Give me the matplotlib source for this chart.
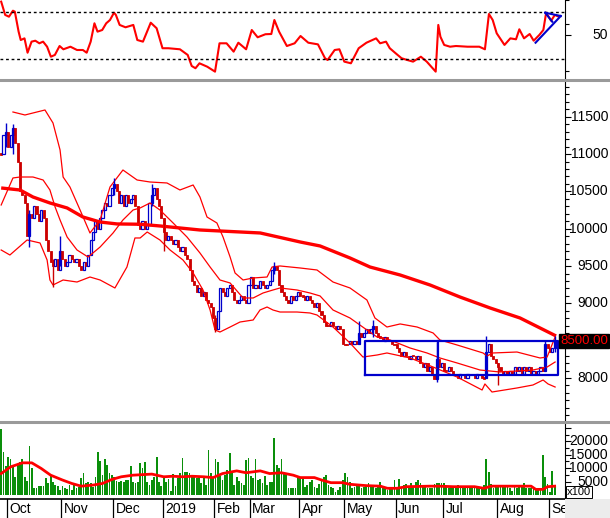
import matplotlib
matplotlib.use('Agg')
import matplotlib.pyplot as plt
from matplotlib.lines import Line2D
from matplotlib.patches import Rectangle
from matplotlib.transforms import blended_transform_factory
from matplotlib.ticker import MultipleLocator

plt.rcParams['font.family'] = ['Liberation Sans', 'DejaVu Sans']

# daily closes, one per trading day (late Sep 2018 .. early Sep 2019)
close = [
    11000, 11250, 11300, 11100, 11250, 11350, 11150, 10900, 10500, 10450,
    10350, 9900, 10200, 10150, 10300, 10200, 10100, 10250, 10150, 9850,
    9700, 9550, 9500, 9600, 9450, 9700, 9600, 9500, 9550, 9650,
    9600, 9550, 9600, 9500, 9450, 9550, 9500, 9650, 9850, 9950,
    10100, 10000, 10150, 10250, 10350, 10300, 10450, 10550, 10600, 10500,
    10350, 10450, 10300, 10450, 10350, 10400, 10450, 10300, 10050, 10000,
    10100, 10000, 10050, 10350, 10450, 10550, 10400, 10300, 10150, 9950,
    9850, 9900, 9850, 9800, 9850, 9750, 9700, 9750, 9650, 9600,
    9450, 9300, 9250, 9150, 9200, 9100, 9150, 9050, 9000, 8950,
    8800, 8650, 8900, 9200, 9150, 9100, 9200, 9250, 9150, 9050,
    9000, 9050, 9100, 9050, 9000, 9250, 9350, 9200, 9250, 9200,
    9300, 9250, 9200, 9250, 9300, 9450, 9500, 9450, 9250, 9150,
    9100, 9050, 9000, 9100, 9050, 9100, 9150, 9100, 9100, 9050,
    9100, 9050, 9000, 8950, 9000, 8900, 8850, 8750, 8700, 8700,
    8750, 8700, 8650, 8700, 8650, 8450, 8450, 8450, 8500, 8450,
    8500, 8450, 8600, 8550, 8600, 8650, 8600, 8650, 8700, 8600,
    8550, 8550, 8500, 8550, 8500, 8500, 8450, 8450, 8400, 8350,
    8300, 8350, 8300, 8250, 8300, 8300, 8250, 8300, 8200, 8150,
    8200, 8100, 8150, 8050, 7980, 8250, 8150, 8200, 8100, 8100,
    8150, 8100, 8050, 8050, 8000, 8050, 8050, 8000, 8050, 8050,
    8050, 8000, 8050, 8050, 8000, 8000, 8350, 8450, 8300, 8250,
    8200, 8150, 8100, 8050, 8100, 8050, 8100, 8050, 8150, 8100,
    8150, 8050, 8150, 8100, 8150, 8050, 8100, 8050, 8100, 8150,
    8100, 8450, 8400, 8350, 8400, 8500,
]

# visible shadows (day: (low, high))
wicks = {
    2: (11100, 11420), 5: (11000, 11400), 12: (9750, 10250), 22: (9220, 9600),
    25: (9500, 9900), 48: (10450, 10680), 64: (10300, 10600), 69: (9700, 10150),
    91: (8620, 8850), 116: (9400, 9560), 152: (8450, 8760), 158: (8550, 8780),
    185: (7950, 8480), 206: (8000, 8560), 211: (7900, 8200), 231: (8100, 8500),
    235: (8350, 8560),
}

# volume, x100 shares
volume = [
    24800, 15900, 10800, 14300, 13600, 10500, 6800, 11200, 12400, 13300,
    6800, 5200, 18200, 9900, 2500, 2700, 3300, 3300, 3300, 6200,
    4300, 7400, 5000, 3700, 3300, 1900, 3300, 2700, 2100, 3700,
    1900, 3700, 2500, 3100, 6200, 8300, 4300, 5000, 4600, 3100,
    6800, 15900, 12600, 7400, 13600, 11200, 8100, 7400, 6800, 5300,
    5000, 5300, 5000, 5600, 5600, 10800, 5000, 4600, 5000, 11800,
    9900, 12400, 5000, 3700, 5600, 6800, 14300, 5000, 3300, 6200,
    5000, 5800, 1600, 7800, 3300, 6200, 8300, 13900, 8700, 8700,
    8300, 7100, 7100, 6200, 7100, 4600, 6800, 3700, 16700, 8100,
    6800, 13400, 12400, 7100, 5600, 7400, 9500, 15500, 8700, 3700,
    6800, 5200, 4300, 3700, 13000, 13900, 7100, 6200, 13600, 5600,
    5800, 4300, 7100, 3700, 5000, 5000, 21300, 11200, 9900,
    13300, 8100, 7800, 2500, 2500, 2700, 2500, 6800, 6800, 6600,
    3100, 3700, 5000, 5600, 3100, 2500, 4100, 5200, 6800, 7300,
    3700, 3100, 2500, 1200, 1900, 3100, 5600, 8300, 6600, 5000,
    2500, 3100, 4100, 3700, 2500, 3100, 3700, 4300, 3100, 3100,
    2500, 3100, 5000, 2500, 3100, 1900, 2900, 3100, 5600, 2500,
    5800, 3100, 3700, 4100, 3100, 4600, 3100, 5000, 5600, 4300,
    3100, 3700, 2500, 2500, 2500, 4100, 4300, 4600, 4300, 4300,
    3100, 2500, 3100, 3100, 2500, 3700, 2500, 3100, 3100, 2500,
    3100, 2500, 3100, 2500, 3100, 2500, 3700, 13300, 8400, 4100,
    2500, 3700, 3100, 3100, 3100, 3700, 3100, 2500, 1600, 3100,
    2500, 3700, 3100, 4300, 2500, 2500, 2500, 3100, 2500, 1900,
    2500, 14900, 6600, 4100, 1200, 8900, 3700,
]

vol_ma_day = [0, 4, 9, 13, 17, 21, 26, 30, 34, 39, 43, 47, 51, 56, 64, 69, 73, 77, 81,
              86, 90, 94, 100, 104, 110, 114, 119, 124, 127, 133, 136, 140, 145, 148,
              155, 161, 164, 168, 172, 182, 186, 192, 201, 205, 208, 218, 225, 227,
              230, 232, 235]
vol_ma = [8000, 10500, 12000, 12000, 9900, 7400, 5600, 4300, 3300, 3700, 4300, 5800,
          6800, 7400, 7800, 6800, 7000, 6800, 7000, 6800, 6500, 8000, 9000, 8300, 9000,
          8000, 8300, 7400, 6500, 6500, 5600, 4600, 4600, 4000, 3500, 3300, 2500, 2500,
          3100, 3300, 3300, 3100, 3100, 2500, 3300, 3300, 3300, 2100, 2100, 3100, 3300]

ma200_day = [0, 8, 13.5, 20.7, 28, 34.7, 42, 49.2, 59, 67.4, 84.4, 110, 127, 135.4,
             148.1, 156.6, 169.4, 182.1, 194.8, 207.6, 220.3, 228.8, 235.6]
ma200 = [10546, 10519, 10425, 10345, 10278, 10157, 10090, 10064, 10060, 10037, 9983,
         9943, 9822, 9769, 9608, 9487, 9380, 9246, 9085, 8938, 8804, 8670, 8563]

bb_up_day = [5, 10.1, 18.6, 22, 25, 26.3, 29.2, 33.5, 37.7, 42, 46.2, 51.7, 57.7, 63.2,
             70.4, 75.9, 81.5, 84.4, 87.4, 91.6, 94.2, 97.2, 99.3, 102.7, 107, 112.9,
             115, 118.4, 126.9, 134.1, 140.9, 148.1, 155.3, 158.7, 163.8, 169.4, 176.6,
             183.4, 186.3, 193.6, 204.6, 206.3, 208.8, 219, 228.8, 231.8, 233, 235.2]
bb_up = [11564, 11524, 11591, 11417, 11055, 10693, 10559, 10251, 9943, 10117, 10559,
         10787, 10653, 10626, 10613, 10519, 10586, 10425, 10157, 10077, 9889, 9621, 9407,
         9313, 9340, 9353, 9487, 9501, 9474, 9447, 9286, 9206, 9045, 8804, 8683, 8724,
         8683, 8603, 8509, 8442, 8335, 8295, 8335, 8348, 8268, 8281, 8375, 8549]

bb_mid_day = [0, 5, 8, 13.5, 17.8, 20.7, 22.9, 25, 28, 32.2, 36.9, 42, 47.5, 51.7, 56,
              59, 63.2, 67.4, 73, 78.9, 84.4, 88.7, 92.9, 97.2, 102.7, 107, 111.2, 115.4,
              118.4, 125.6, 131.1, 135.4, 140.9, 148.1, 155.3, 159.6, 165.1, 173.6, 180.8,
              186.3, 193.6, 203.3, 211.8, 225.8, 231.8, 235.2]
bb_mid = [10318, 10680, 10693, 10693, 10653, 10519, 10291, 10117, 9889, 9715, 9621,
          9755, 9943, 10117, 10251, 10278, 10345, 10251, 10077, 9889, 9675, 9487, 9313,
          9273, 9072, 9072, 9139, 9179, 9206, 9179, 9139, 9099, 8911, 8804, 8643, 8549,
          8509, 8402, 8335, 8268, 8201, 8107, 8080, 8107, 8147, 8214]

bb_lo_day = [0, 3.7, 11, 16.5, 19.5, 20.7, 22, 26.3, 32.2, 37.7, 42, 48.3, 53.4, 56.8,
             59, 62, 67.4, 71.7, 77.2, 81.5, 85.7, 88.7, 90.8, 92.9, 97.2, 101.4, 107,
             109.9, 112.9, 115.4, 118.4, 125.6, 131.1, 134.1, 140.9, 148.1, 153.6, 159.6,
             163.8, 173.6, 183.4, 193.6, 204.2, 205.4, 208.4, 219, 225.8, 230.1, 232.2,
             235.2]
bb_lo = [9715, 9648, 9849, 9809, 9581, 9313, 9246, 9313, 9286, 9353, 9313, 9206, 9487,
         9876, 9876, 9956, 9849, 9715, 9581, 9407, 9179, 8911, 8643, 8616, 8683, 8750,
         8777, 8911, 8951, 8911, 8884, 8884, 8871, 8844, 8683, 8469, 8281, 8308, 8335,
         8268, 8147, 8013, 7839, 7920, 7812, 7866, 7906, 7973, 7920, 7879]

rsi_day = [0, 1.7, 3.3, 5, 5.8, 7.4, 8.3, 9.9, 11.2, 12.9, 14.5, 16.2, 17.8, 19.5,
           21.1, 22.8, 24.8, 26.4, 29.4, 32.2, 34.7, 36.3, 38, 39.6, 40.9, 42.9, 44.6,
           46.2, 47.9, 48.7, 50.3, 52.8, 56.1, 57.8, 60.2, 63.5, 66, 68.5, 71, 75.9,
           79.2, 80.9, 82.5, 84.2, 87.5, 90.8, 92.7, 95.7, 98.7, 100.7, 104, 106.4,
           108.9, 112.2, 114.7, 116, 118, 121.3, 124.6, 127.1, 130.4, 134.5, 137.5,
           138.6, 141.6, 143.6, 145.7, 148.5, 151.8, 155.1, 159.2, 160.9, 163.4, 165,
           167.5, 170, 172.4, 174.9, 178.2, 180.7, 183.2, 184.5, 185.6, 186.5, 188.1,
           190.6, 193.1, 198, 203, 205.4, 207.1, 208.7, 210.4, 213.7, 216.2, 218.6, 220,
           222, 224.4, 226.1, 228.5, 230.2, 231.4, 233.5, 235.1, 236.8]
rsi = [78.6, 67.3, 65.8, 70.9, 70.1, 53.1, 46.0, 47.4, 35.2, 44.6, 45.4, 43.2, 44.6,
       40.3, 31.8, 33.3, 40.9, 38.1, 40.3, 37.5, 37.5, 35.2, 44.6, 60.2, 53.1, 54.5,
       60.2, 63.0, 69.2, 67.3, 58.8, 56.8, 58.8, 46.0, 44.6, 60.7, 56.0, 39.0, 39.0,
       38.1, 33.3, 23.9, 22.0, 26.2, 23.3, 19.1, 43.2, 43.2, 36.1, 43.7, 38.1, 54.5,
       48.3, 50.9, 51.1, 63.0, 53.1, 40.9, 43.2, 49.4, 43.7, 42.3, 30.5, 29.0, 37.5,
       38.1, 27.6, 26.2, 39.0, 43.7, 47.4, 43.2, 44.6, 39.0, 34.7, 30.5, 29.0, 27.6,
       31.8, 27.6, 22.0, 19.1, 58.8, 48.8, 41.8, 40.3, 40.9, 40.3, 40.3, 38.1, 68.1,
       63.0, 51.7, 41.8, 47.4, 46.6, 55.1, 47.4, 51.1, 45.4, 50.3, 54.5, 69.2, 62.4,
       67.3, 65.8]

month_labels = ['Oct', 'Nov', 'Dec', '2019', 'Feb', 'Mar', 'Apr', 'May', 'Jun', 'Jul', 'Aug', 'Se']
month_start = [3, 26, 48, 69, 91, 106, 127, 146, 168, 188, 211, 233]

price_labels = [8000, 8500, 9000, 9500, 10000, 10500, 11000, 11500]
vol_labels = [5000, 10000, 15000, 20000]
last_price = 8500

# trading-range box drawn by the analyst (day, price)
box_days = (154.5, 185.6, 236.3)
box_prices = (8040, 8500)

W, H = 610, 518
RED = '#ff0000'
DRED = '#cc0000'
BLUE = '#0000cc'
XLIM = (-0.5, 239.4)

fig = plt.figure(figsize=(W / 100, H / 100), dpi=100)


def place(top, bottom, left=0, right=565):
    return [left / W, 1 - bottom / H, (right - left) / W, (bottom - top) / H]


ax_rsi = fig.add_axes(place(0, 78))
ax = fig.add_axes(place(82, 420))
ax_vol = fig.add_axes(place(423, 499))
ax_mon = fig.add_axes(place(499, 518))

for a in (ax_rsi, ax, ax_vol, ax_mon):
    a.set_xlim(*XLIM)
    a.set_xticks([])
    for s in ('top', 'left', 'bottom'):
        a.spines[s].set_visible(False)
    a.spines['right'].set_color('black')
    a.yaxis.tick_right()
    a.tick_params(axis='y', which='both', direction='out', labelright=False,
                  length=4.5, width=0.8, color='black')
    a.tick_params(axis='y', which='minor', length=3)
    a.patch.set_alpha(0)


def right_label(a, val, text, **kw):
    tr = blended_transform_factory(fig.transFigure, a.transData)
    kw.setdefault('fontsize', 10)
    a.text(608 / W, val, text, transform=tr, ha='right', va='center',
           clip_on=False, **kw)


# ---- RSI panel
ax_rsi.set_ylim(13.7, 80)
ax_rsi.plot(rsi_day, rsi, color=RED, lw=1.5)
for lvl in (70, 30):
    ax_rsi.axhline(lvl, color='black', lw=1, ls=(0, (2, 2)))
ax_rsi.set_yticks([50])
ax_rsi.set_yticks([20, 60, 80], minor=True)
right_label(ax_rsi, 50, '50')
ax_rsi.plot([226.9, 237.6], [43.7, 66.4], color=BLUE, lw=1.5)
ax_rsi.plot([231.0, 237.6], [69.2, 66.4], color=BLUE, lw=1.5)
ax_rsi.plot([231.0, 234.0], [69.2, 61.5], color=BLUE, lw=1.5)

# ---- price panel
ax.set_ylim(7437, 11966)
ax.plot(ma200_day, ma200, color=RED, lw=2.4, solid_capstyle='butt')
for d, v in ((bb_up_day, bb_up), (bb_mid_day, bb_mid), (bb_lo_day, bb_lo)):
    ax.plot(d, v, color=RED, lw=0.9)

for i, c in enumerate(close):
    o = close[i - 1] if i > 0 else c
    if i in wicks:
        lo, hi = wicks[i]
        ax.vlines(i, lo, hi, color=BLUE if c >= o else DRED, lw=1.0)
    lo_b, hi_b = min(o, c), max(o, c)
    if hi_b - lo_b < 20:
        lo_b, hi_b = c - 10, c + 10
    if c > o:
        ax.add_patch(Rectangle((i - 0.45, lo_b), 0.9, hi_b - lo_b, facecolor='none',
                               edgecolor=BLUE, lw=0.9))
    else:
        ax.add_patch(Rectangle((i - 0.45, lo_b), 0.9, hi_b - lo_b, facecolor=DRED,
                               edgecolor=DRED, lw=0.6))

bx0, bxm, bx1 = box_days
by0, by1 = box_prices
ax.plot([bx0, bx1, bx1, bx0, bx0], [by0, by0, by1, by1, by0], color=BLUE, lw=1.6)
ax.plot([bxm, bxm], [by0, by1], color=BLUE, lw=1.6)

ax.set_yticks(price_labels)
ax.yaxis.set_minor_locator(MultipleLocator(100))
for p in price_labels:
    if p != last_price:
        right_label(ax, p, str(p))
right_label(ax, last_price, f'{last_price:.2f}', color=RED, fontsize=9.5,
            bbox=dict(facecolor='black', edgecolor='black', pad=0.8))

# ---- volume panel
ax_vol.set_ylim(-1490, 26860)
ax_vol.bar(range(len(volume)), volume, width=0.75, color='#0a8f0a', linewidth=0)
ax_vol.plot(vol_ma_day, vol_ma, color=RED, lw=2)
ax_vol.set_yticks([0] + vol_labels + [25000])
ax_vol.yaxis.set_minor_locator(MultipleLocator(2500))
for v in vol_labels:
    right_label(ax_vol, v, str(v))
fig.text(567 / W, 1 - 492 / H, 'x100', fontsize=8, ha='left', va='center',
         bbox=dict(facecolor='white', edgecolor='black', lw=0.7, pad=1))

# ---- month axis
ax_mon.set_ylim(0, 1)
ax_mon.set_yticks([])
ax_mon.spines['top'].set_visible(True)
ax_mon.spines['top'].set_linewidth(1.2)
ax_mon.spines['right'].set_visible(False)
for m, d in zip(month_labels, month_start):
    ax_mon.axvline(d - 0.5, color='black', lw=0.9)
    ax_mon.text(d + 0.6, 0.45, m, fontsize=10, ha='left', va='center')

# grey frame pieces
for yy in (79.5, 421.5):
    fig.add_artist(Line2D([0, 1], [1 - yy / H] * 2, transform=fig.transFigure,
                          color='#9a9a9a', lw=2.2))
fig.add_artist(Rectangle((565 / W, 0), 45 / W, 19 / H, transform=fig.transFigure,
                         facecolor='#ececec', edgecolor='none'))

fig.savefig('out.png', dpi=100)
